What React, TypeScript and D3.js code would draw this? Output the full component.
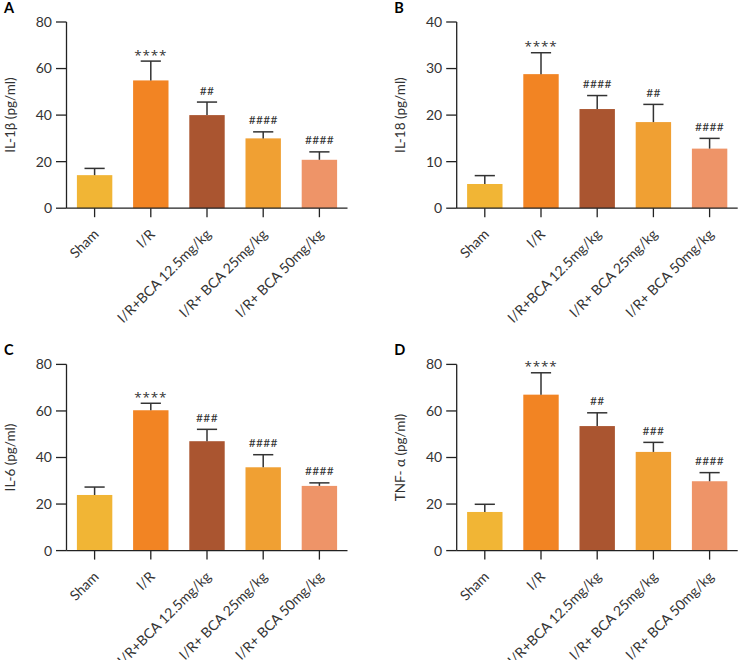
import React from "react";
import * as d3 from "d3";

const categories = [
  "Sham",
  "I/R",
  "I/R+BCA 12.5mg/kg",
  "I/R+ BCA 25mg/kg",
  "I/R+ BCA 50mg/kg",
];
const barColors = ["#F1B535", "#F28423", "#AA5530", "#F0A033", "#EE9468"];

const il1bMean = [14.2, 54.9, 40.0, 30.0, 20.8];
const il1bSd = [2.9, 8.3, 5.6, 2.8, 3.4];
const il1bSig = ["", "****", "##", "####", "####"];

const il18Mean = [5.2, 28.8, 21.3, 18.5, 12.8];
const il18Sd = [1.8, 4.6, 2.9, 3.8, 2.2];
const il18Sig = ["", "****", "####", "##", "####"];

const il6Mean = [23.9, 60.3, 47.0, 35.8, 27.8];
const il6Sd = [3.4, 3.0, 5.1, 5.4, 1.3];
const il6Sig = ["", "****", "###", "####", "####"];

const tnfMean = [16.6, 67.0, 53.5, 42.4, 29.8];
const tnfSd = [3.3, 9.4, 5.7, 4.1, 3.7];
const tnfSig = ["", "****", "##", "###", "####"];

const ticks80 = [0, 20, 40, 60, 80];
const ticks40 = [0, 10, 20, 30, 40];

const FONT = "Lato, 'Open Sans', sans-serif";
const STAR_FONT = "'Open Sans', 'DejaVu Sans', sans-serif";

type PanelProps = {
  letter: string;
  title: string;
  means: number[];
  sds: number[];
  sig: string[];
  yMax: number;
  yTicks: number[];
  ox: number; // axis x
  oy: number; // top of y range
};

function Panel({ letter, title, means, sds, sig, yMax, yTicks, ox, oy }: PanelProps) {
  const plotW = 281;
  const plotH = 186.2;
  const x = d3.scaleBand<string>().domain(categories).range([ox, ox + plotW]).paddingInner(0.37).paddingOuter(0.185);
  const y = d3.scaleLinear().domain([0, yMax]).range([oy + plotH, oy]);
  const bw = x.bandwidth();
  const capW = bw * 0.57;
  const axisColor = "#222";
  const textColor = "#333";
  const yBase = y(0);
  return (
    <g>
      <text x={ox - 62.5} y={oy - 9} fontFamily={FONT} fontWeight={700} fontSize={14.5} fill="#000">
        {letter}
      </text>
      <text
        transform={`translate(${ox - 52},${oy + plotH / 2}) rotate(-90)`}
        textAnchor="middle"
        fontFamily={FONT}
        fontSize={13.5}
        fill={textColor}
      >
        {title}
      </text>
      {categories.map((c, i) => {
        const cx = (x(c) as number) + bw / 2;
        const top = y(means[i] + sds[i]);
        const isStar = sig[i].includes("*");
        return (
          <g key={c}>
            <rect x={x(c)} y={y(means[i])} width={bw} height={yBase - y(means[i])} fill={barColors[i]} />
            <line x1={cx} x2={cx} y1={y(means[i])} y2={top} stroke="#333" strokeWidth={1.5} />
            <line x1={cx - capW / 2} x2={cx + capW / 2} y1={top} y2={top} stroke="#333" strokeWidth={1.5} />
            {sig[i] && (
              <text
                x={cx}
                y={isStar ? top - 1.5 : top - 7.5}
                textAnchor="middle"
                fontFamily={isStar ? STAR_FONT : FONT}
                fontSize={isStar ? 13.5 : 12}
                letterSpacing={isStar ? 0.8 : 0.3}
                fill={textColor}
              >
                {sig[i]}
              </text>
            )}
          </g>
        );
      })}
      {/* y axis */}
      <line x1={ox} x2={ox} y1={oy} y2={yBase} stroke={axisColor} strokeWidth={1.3} />
      {yTicks.map((t) => (
        <g key={t}>
          <line x1={ox - 10.5} x2={ox} y1={y(t)} y2={y(t)} stroke={axisColor} strokeWidth={1.3} />
          <text
            x={ox - 14.5}
            y={y(t)}
            dy="0.35em"
            textAnchor="end"
            fontFamily={FONT}
            fontSize={14}
            fill={textColor}
          >
            {t}
          </text>
        </g>
      ))}
      {/* x axis */}
      <line x1={ox} x2={ox + plotW} y1={yBase} y2={yBase} stroke={axisColor} strokeWidth={1.3} />
      {categories.map((c) => {
        const cx = (x(c) as number) + bw / 2;
        return (
          <g key={"t" + c}>
            <line x1={cx} x2={cx} y1={yBase} y2={yBase + 9} stroke={axisColor} strokeWidth={1.3} />
            <text
              transform={`translate(${cx + 2},${yBase + 24}) rotate(-45)`}
              textAnchor="end"
              dy="0.3em"
              fontFamily={FONT}
              fontSize={14}
              fill={textColor}
            >
              {c}
            </text>
          </g>
        );
      })}
    </g>
  );
}

export default function App() {
  return (
    <svg
      width={740}
      height={660}
      viewBox="0 0 740 660"
      style={{ position: "absolute", left: 0, top: 0, background: "#fff" }}
    >
      <rect width={740} height={660} fill="#fff" />
      <Panel letter="A" title="IL-1β (pg/ml)" means={il1bMean} sds={il1bSd} sig={il1bSig} yMax={80} yTicks={ticks80} ox={66.5} oy={22} />
      <Panel letter="B" title="IL-18 (pg/ml)" means={il18Mean} sds={il18Sd} sig={il18Sig} yMax={40} yTicks={ticks40} ox={456.7} oy={22} />
      <Panel letter="C" title="IL-6 (pg/ml)" means={il6Mean} sds={il6Sd} sig={il6Sig} yMax={80} yTicks={ticks80} ox={66.5} oy={364.4} />
      <Panel letter="D" title="TNF- α (pg/ml)" means={tnfMean} sds={tnfSd} sig={tnfSig} yMax={80} yTicks={ticks80} ox={456.7} oy={364.4} />
    </svg>
  );
}
